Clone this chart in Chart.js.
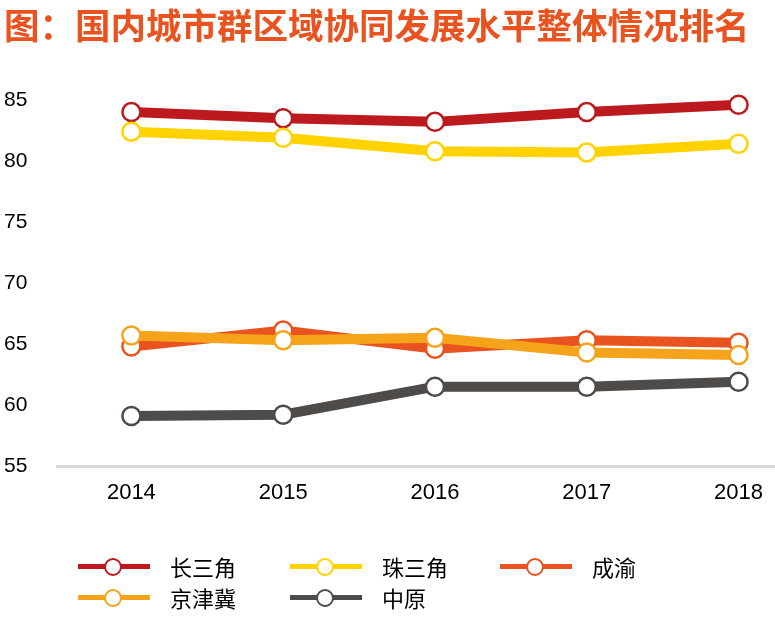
<!DOCTYPE html>
<html>
<head>
<meta charset="utf-8">
<script src="https://cdn.jsdelivr.net/npm/chart.js@4/dist/chart.umd.min.js"></script>
<style>
  html, body { margin: 0; padding: 0; background: #fff; }
  .wrap { position: relative; width: 775px; height: 626px; }
  canvas { position: absolute; left: 0; top: 0; }
  .legend { position: absolute; left: 0; top: 0; width: 775px; height: 626px; pointer-events: none; }
  .item { position: absolute; height: 30px; }
  .item .ln { position: absolute; left: 0; top: 12px; width: 72px; height: 5px; }
  .item .dot { position: absolute; left: 26px; top: 6px; width: 14px; height: 14px; border-radius: 50%;
               background: #fff; border: 2.5px solid; }
  .item .txt { position: absolute; left: 92px; top: -2px; white-space: nowrap;
               font: 22px "Noto Sans CJK SC", sans-serif; color: #000; }
</style>
</head>
<body>
<div class="wrap">
  <canvas id="c" width="775" height="626"></canvas>
  <div class="legend" id="legend"></div>
</div>
<script>
// 数据
const years = ['2014', '2015', '2016', '2017', '2018'];
const yTicks = [55, 60, 65, 70, 75, 80, 85];
const names = ['长三角', '珠三角', '成渝', '京津冀', '中原'];
const colors = ['#BC1A1E', '#FFD200', '#E8531F', '#F5A31A', '#4F4B49'];
const csj = [84.0, 83.5, 83.2, 84.0, 84.6];   // 长三角
const zsj = [82.4, 81.9, 80.8, 80.7, 81.4];   // 珠三角
const cy  = [64.8, 66.1, 64.6, 65.3, 65.1];   // 成渝
const jjj = [65.7, 65.3, 65.5, 64.3, 64.1];   // 京津冀
const zy  = [59.1, 59.2, 61.5, 61.5, 61.9];   // 中原
const series = [csj, zsj, cy, jjj, zy];
// 绘制顺序 (数值小的在上层)
const drawOrder = [5, 4, 3, 1, 2];

const datasets = series.map((vals, i) => ({
    label: names[i],
    data: vals.map((v, j) => ({ x: Number(years[j]), y: v })),
    borderColor: colors[i],
    backgroundColor: colors[i],
    borderWidth: 10,
    pointRadius: 9,
    pointBorderWidth: 2.5,
    pointBackgroundColor: '#fff',
    pointBorderColor: colors[i],
    pointHoverRadius: 9,
    tension: 0,
    clip: false,
    order: drawOrder[i]
}));

new Chart(document.getElementById('c'), {
    type: 'line',
    data: { datasets: datasets },
    options: {
        responsive: false,
        animation: false,
        events: [],
        layout: { autoPadding: false, padding: { left: 4, right: 0, top: 0, bottom: 120 } },
        plugins: {
            legend: { display: false },
            tooltip: { enabled: false },
            title: {
                display: true,
                text: '图：国内城市群区域协同发展水平整体情况排名',
                align: 'start',
                color: '#E8531F',
                font: { family: '"Noto Sans CJK SC", sans-serif', size: 35.5, weight: 'bold' },
                padding: { top: 4, bottom: 35 }
            }
        },
        scales: {
            x: {
                type: 'linear',
                min: 2013.51,
                max: 2018.24,
                afterBuildTicks: s => { s.ticks = years.map(y => ({ value: Number(y) })); },
                afterFit: s => { s.height = 40; s.paddingLeft = 0; s.paddingRight = 0; },
                grid: { display: false, drawTicks: false },
                border: { display: true, color: '#D9D9D9', width: 3 },
                ticks: {
                    padding: 14,
                    color: '#000',
                    font: { family: '"Liberation Sans", Arial, sans-serif', size: 22 },
                    callback: v => String(v)
                }
            },
            y: {
                min: 55,
                max: 86.5,
                afterBuildTicks: s => { s.ticks = yTicks.map(v => ({ value: v })); },
                afterFit: s => { s.width = 53; },
                grid: { display: false, drawTicks: false },
                border: { display: false },
                ticks: {
                    crossAlign: 'far',
                    padding: 8,
                    color: '#000',
                    font: { family: '"Liberation Sans", Arial, sans-serif', size: 21 }
                }
            }
        }
    }
});

// 图例
const legendPos = [[78, 567], [290, 567], [500, 567], [78, 598], [290, 598]];
const legend = document.getElementById('legend');
names.forEach((n, i) => {
    const it = document.createElement('div');
    it.className = 'item';
    it.style.left = legendPos[i][0] + 'px';
    it.style.top = (legendPos[i][1] - 15) + 'px';
    it.innerHTML = '<div class="ln" style="background:' + colors[i] + '"></div>' +
        '<div class="dot" style="border-color:' + colors[i] + '"></div>' +
        '<div class="txt">' + n + '</div>';
    legend.appendChild(it);
});
</script>
</body>
</html>
